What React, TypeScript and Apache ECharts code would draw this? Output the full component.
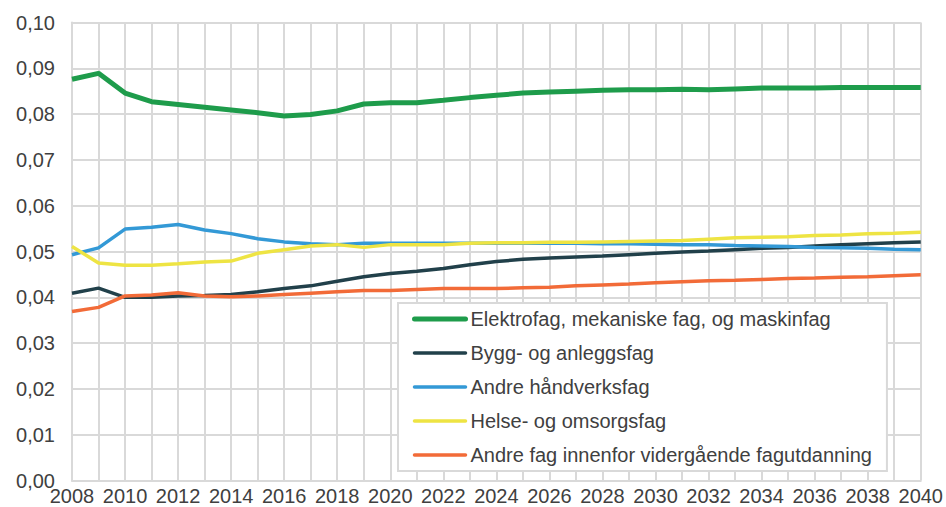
import React, { useEffect, useRef } from "react";
import * as echarts from "echarts";

const years = [
  "2008","2009","2010","2011","2012","2013","2014","2015","2016","2017","2018",
  "2019","2020","2021","2022","2023","2024","2025","2026","2027","2028","2029",
  "2030","2031","2032","2033","2034","2035","2036","2037","2038","2039","2040",
];

const seriesNames = [
  "Elektrofag, mekaniske fag, og maskinfag",
  "Bygg- og anleggsfag",
  "Andre håndverksfag",
  "Helse- og omsorgsfag",
  "Andre fag innenfor vidergående fagutdanning",
];

const elektro = [
  0.0876, 0.0889, 0.0846, 0.0827, 0.0821, 0.0815, 0.0809, 0.0803, 0.0796, 0.0799, 0.0807,
  0.0822, 0.0825, 0.0825, 0.083, 0.0836, 0.0841, 0.0846, 0.0848, 0.085, 0.0852, 0.0853,
  0.0853, 0.0854, 0.0853, 0.0855, 0.0857, 0.0857, 0.0857, 0.0858, 0.0858, 0.0858, 0.0858,
];
const bygg = [
  0.0409, 0.042, 0.04, 0.04, 0.0403, 0.0404, 0.0406, 0.0412, 0.0419, 0.0425, 0.0435,
  0.0445, 0.0452, 0.0457, 0.0463, 0.0471, 0.0478, 0.0483, 0.0486, 0.0488, 0.049, 0.0493,
  0.0496, 0.0499, 0.0501, 0.0504, 0.0507, 0.0509, 0.0512, 0.0515, 0.0517, 0.0519, 0.0521,
];
const handverk = [
  0.0493, 0.0508, 0.0549, 0.0553, 0.0559, 0.0547, 0.0539, 0.0528, 0.0521, 0.0517, 0.0515,
  0.0518, 0.0518, 0.0518, 0.0518, 0.0518, 0.0518, 0.0518, 0.0518, 0.0518, 0.0517, 0.0517,
  0.0516, 0.0515, 0.0515, 0.0513, 0.0512, 0.0511, 0.0509, 0.0508, 0.0507, 0.0505, 0.0504,
];
const helse = [
  0.0511, 0.0475, 0.047, 0.047, 0.0473, 0.0477, 0.0479, 0.0496, 0.0504, 0.0512, 0.0515,
  0.0509, 0.0515, 0.0515, 0.0515, 0.0518, 0.0519, 0.0519, 0.052, 0.052, 0.0521, 0.0522,
  0.0523, 0.0524, 0.0527, 0.053, 0.0531, 0.0532, 0.0535, 0.0536, 0.0539, 0.054, 0.0542,
];
const andre = [
  0.0369, 0.0378, 0.0403, 0.0405, 0.041, 0.0403, 0.0401, 0.0403, 0.0406, 0.0409, 0.0412,
  0.0415, 0.0415, 0.0417, 0.0419, 0.0419, 0.0419, 0.0421, 0.0422, 0.0425, 0.0427, 0.0429,
  0.0432, 0.0434, 0.0436, 0.0437, 0.0439, 0.0441, 0.0442, 0.0444, 0.0445, 0.0447, 0.0449,
];

const colors = ["#1e9c4b", "#21404a", "#3399d6", "#eee443", "#f26b38"];
const widths = [5, 3.5, 3.5, 3.5, 3.5];

export default function App() {
  const ref = useRef<HTMLDivElement>(null);
  useEffect(() => {
    if (!ref.current) return;
    const chart = echarts.init(ref.current, null, { renderer: "svg" });
    const values = [elektro, bygg, handverk, helse, andre];
    const font = "'Liberation Sans', Arial, sans-serif";
    const grid = { color: "#d9d9d9", width: 2 };
    chart.setOption({
      animation: false,
      textStyle: { fontFamily: font },
      grid: { left: 72, right: 23, top: 22.5, bottom: 26.5, containLabel: false },
      xAxis: {
        type: "category",
        data: years,
        boundaryGap: false,
        axisLine: { show: true, lineStyle: grid },
        axisTick: { show: false },
        splitLine: { show: true, interval: 0, lineStyle: grid },
        axisLabel: {
          interval: 1,
          color: "#404040",
          fontSize: 20,
          fontFamily: font,
          margin: 5,
        },
      },
      yAxis: {
        type: "value",
        min: 0,
        max: 0.1,
        interval: 0.01,
        axisLine: { show: true, lineStyle: grid },
        axisTick: { show: false },
        splitLine: { show: true, lineStyle: grid },
        axisLabel: {
          color: "#404040",
          fontSize: 20,
          fontFamily: font,
          margin: 17,
          formatter: (v: number) => v.toFixed(2).replace(".", ","),
        },
      },
      legend: {
        orient: "vertical",
        left: 398,
        top: 303,
        backgroundColor: "#ffffff",
        borderColor: "#d9d9d9",
        borderWidth: 2,
        padding: [6, 15, 6, 14],
        itemGap: 14,
        itemWidth: 51,
        itemHeight: 14,
        itemStyle: { opacity: 0, borderWidth: 0 },
        textStyle: { color: "#404040", fontSize: 20, fontFamily: font, lineHeight: 20 },
        data: seriesNames.map((n, i) => ({
          name: n,
          itemStyle: { opacity: 0, borderWidth: 0 },
          lineStyle: { width: widths[i], color: colors[i], cap: "round", opacity: 1 },
        })),
      },
      series: seriesNames.map((n, i) => ({
        name: n,
        type: "line",
        data: values[i],
        symbol: "none",
        showSymbol: false,
        color: colors[i],
        lineStyle: { width: widths[i], color: colors[i] },
        z: 2,
      })),
    });
    return () => chart.dispose();
  }, []);
  return (
    <div
      ref={ref}
      style={{ position: "fixed", left: 0, top: 0, width: 946, height: 507, background: "#fff" }}
    />
  );
}
